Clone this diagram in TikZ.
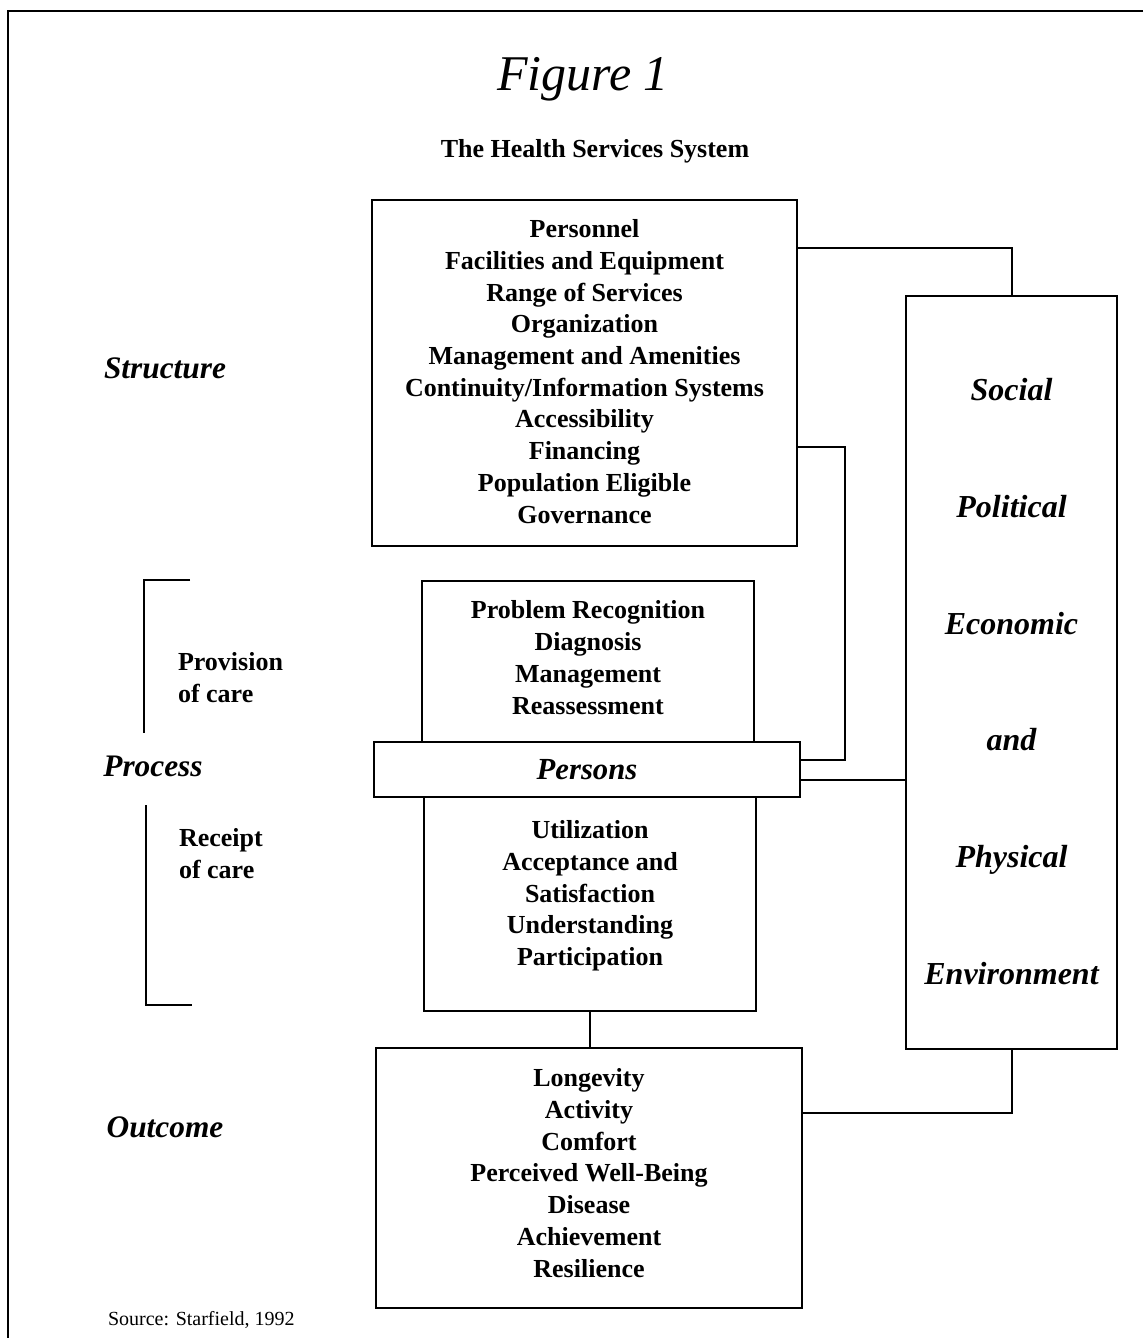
\documentclass[tikz,border=0pt]{standalone}
\usepackage{fontspec}
\setmainfont{Liberation Serif}
\newcommand{\bodyfnt}{\fontsize{19.5}{23.8}\selectfont\bfseries}
\begin{document}
\begin{tikzpicture}[x=0.75pt,y=-0.75pt, line width=1.5pt,
  box/.style={draw, inner sep=0pt},
  boxtext/.style={inner sep=0pt, align=center, font=\bodyfnt},
  sidelabel/.style={anchor=base, font=\fontsize{23.5}{28}\selectfont\bfseries\itshape},
  subl/.style={anchor=base west, inner sep=0pt, font=\bodyfnt}]
\useasboundingbox (0,0) rectangle (1143,1338);
% frame
\draw (1143,11) -- (8,11) -- (8,1338);
% titles
\node[anchor=base, font=\fontsize{37.5}{40}\selectfont\itshape] (title) at (583,90) {Figure 1};
\node[anchor=base, font=\bodyfnt] (subtitle) at (595,157) {The Health Services System};
% boxes
\node[box, minimum width=318.75pt, minimum height=259.5pt] (struct) at (584.5,373) {};
\node[box, minimum width=249pt, minimum height=120.75pt] (prov) at (588,661.5) {};
\node[box, minimum width=319.5pt, minimum height=41.25pt, font=\fontsize{23}{28}\selectfont\bfseries\itshape] (persons) at (587,769.5) {Persons};
\node[box, minimum width=249pt, minimum height=160.5pt] (receipt) at (590,904) {};
\node[box, minimum width=319.5pt, minimum height=195pt] (outcome) at (589,1178) {};
\node[box, minimum width=158.25pt, minimum height=564.75pt] (env) at (1011.5,672.5) {};
% box texts
\node[boxtext] (structtxt) at (584.5,371.5)
  {Personnel\\Facilities and Equipment\\Range of Services\\Organization\\Management and Amenities\\Continuity/Information Systems\\Accessibility\\Financing\\Population Eligible\\Governance};
\node[boxtext] (provtxt) at (588,657.5)
  {Problem Recognition\\Diagnosis\\Management\\Reassessment};
\node[boxtext] (receipttxt) at (590,896)
  {Utilization\\Acceptance and\\Satisfaction\\Understanding\\Participation};
\node[boxtext] (outcometxt) at (589,1173)
  {Longevity\\Activity\\Comfort\\Perceived Well-Being\\Disease\\Achievement\\Resilience};
\node[boxtext, font=\fontsize{24}{87.5}\selectfont\bfseries\itshape] (envtxt) at (1011.5,681.5)
  {Social\\Political\\Economic\\and\\Physical\\Environment};
% side labels
\node[sidelabel] (lstruct) at (165,378) {Structure};
\node[sidelabel] (lproc) at (153,776) {Process};
\node[sidelabel] (lout) at (165,1137) {Outcome};
\node[subl] (prov1) at (177,670) {Provision};
\node[subl] (prov2) at (177,702) {of care};
\node[subl] (rec1) at (178,846) {Receipt};
\node[subl] (rec2) at (178,878) {of care};
\node[anchor=base west, inner sep=0pt, font=\fontsize{15}{18}\selectfont] (source) at (107,1325) {Source: Starfield, 1992};
% brackets
\draw (190,580) -- (144,580) -- (144,733);
\draw (146,805) -- (146,1005) -- (192,1005);
% helper coordinates
\coordinate (h1) at (0,248);
\coordinate (h2) at (0,447);
\coordinate (v1) at (845,0);
\coordinate (h3) at (0,760);
\coordinate (h4) at (0,780);
\coordinate (h5) at (0,1113);
% connectors
\draw (struct.east |- h1) -| (env.north);
\draw (struct.east |- h2) -| (v1 |- h3) -- (persons.east |- h3);
\draw (persons.east |- h4) -- (env.west |- h4);
\draw (receipt.south) -- (receipt.south |- outcome.north);
\draw (outcome.east |- h5) -| (env.south);
\end{tikzpicture}
\end{document}
